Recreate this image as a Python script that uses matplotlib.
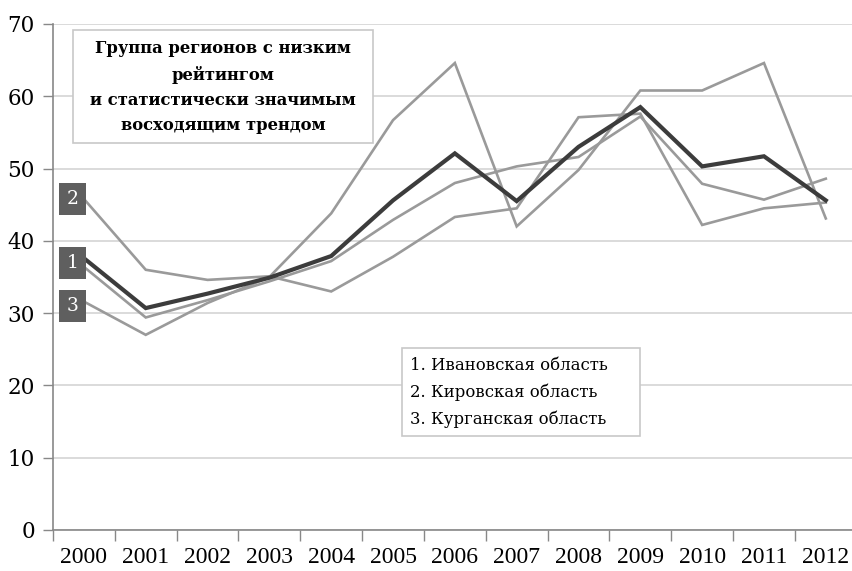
import matplotlib
matplotlib.use("Agg")
import matplotlib.pyplot as plt
from matplotlib.patches import Rectangle

years = ["2000", "2001", "2002", "2003", "2004", "2005", "2006",
         "2007", "2008", "2009", "2010", "2011", "2012"]
group_mean = [37.6, 30.7, 32.7, 34.9, 37.9, 45.6, 52.1, 45.5, 53.0, 58.5, 50.3, 51.7, 45.6]
region_1 = [36.4, 29.4, 31.8, 34.4, 37.2, 42.9, 48.0, 50.3, 51.6, 57.2, 47.9, 45.7, 48.6]
region_2 = [45.8, 36.0, 34.6, 35.1, 33.0, 37.8, 43.3, 44.5, 57.1, 57.6, 42.2, 44.5, 45.3]
region_3 = [31.6, 27.0, 31.4, 35.0, 43.8, 56.7, 64.6, 42.0, 49.8, 60.8, 60.8, 64.6, 43.1]
series_labels = ["1", "2", "3"]
title_text = "Группа регионов с низким\nрейтингом\nи статистически значимым\nвосходящим трендом"
legend_text = ["1. Ивановская область", "2. Кировская область", "3. Курганская область"]
y_ticks = [0, 10, 20, 30, 40, 50, 60, 70]

W, H = 853, 571
fig = plt.figure(figsize=(W / 100, H / 100), dpi=100)
fig.patch.set_facecolor("white")

def fx(px):
    return px / W

def fy(py):
    return 1 - py / H

ax = fig.add_axes([fx(53), fy(530), fx(853) - fx(53), fy(24) - fy(530)])
x = list(range(len(years)))

for s in (region_1, region_2, region_3):
    ax.plot(x, s, color="#9a9a9a", lw=1.9, solid_joinstyle="miter", zorder=3)
ax.plot(x, group_mean, color="#3c3c3c", lw=3.0, solid_joinstyle="miter", zorder=4)

ax.set_xlim(-0.5, 12.44)
ax.set_ylim(0, 70)
ax.set_yticks(y_ticks)
ax.set_yticklabels([str(v) for v in y_ticks], family="DejaVu Serif", fontsize=15.5)
ax.set_xticks(x)
ax.set_xticklabels(years, family="Liberation Serif", fontsize=17)
ax.tick_params(axis="x", which="major", length=0, pad=12)
ax.set_xticks([i - 0.5 for i in range(len(years))], minor=True)
ax.tick_params(axis="x", which="minor", length=8, color="#888888", width=1)
ax.tick_params(axis="y", length=7, color="#888888", width=1, pad=6)
ax.grid(axis="y", color="#d4d4d4", lw=1.2)
ax.set_axisbelow(True)
for sp in ("top", "right"):
    ax.spines[sp].set_visible(False)
for sp in ("left", "bottom"):
    ax.spines[sp].set_color("#888888")
    ax.spines[sp].set_linewidth(1.2)

# numbered labels at start of each region line (small vertical nudges as in the reference)
label_nudge = [0.5, 0.0, -0.6]
for lab, s, dy in zip(series_labels, (region_1, region_2, region_3), label_nudge):
    ax.text(-0.185, s[0] + dy, lab, ha="center", va="center", color="white",
            family="DejaVu Serif", fontsize=13.5, zorder=6,
            bbox=dict(boxstyle="square,pad=0.38", fc="#5f5f5f", ec="none"))

# title box
fig.patches.append(Rectangle((fx(73), fy(143)), fx(373) - fx(73), fy(30) - fy(143),
                             transform=fig.transFigure, fc="white", ec="#c8c8c8", lw=1.2, zorder=5))
fig.text(fx(223), fy(87), title_text, ha="center", va="center", family="DejaVu Serif",
         fontweight="bold", fontsize=11.8, linespacing=1.62, zorder=6)

# legend box
fig.patches.append(Rectangle((fx(402), fy(436)), fx(640) - fx(402), fy(348) - fy(436),
                             transform=fig.transFigure, fc="white", ec="#c8c8c8", lw=1.2, zorder=5))
for i, t in enumerate(legend_text):
    fig.text(fx(410), fy(365 + 27 * i), t, ha="left", va="center", family="DejaVu Serif",
             fontsize=11.9, zorder=6)

fig.savefig("out.png", dpi=100, facecolor="white")
